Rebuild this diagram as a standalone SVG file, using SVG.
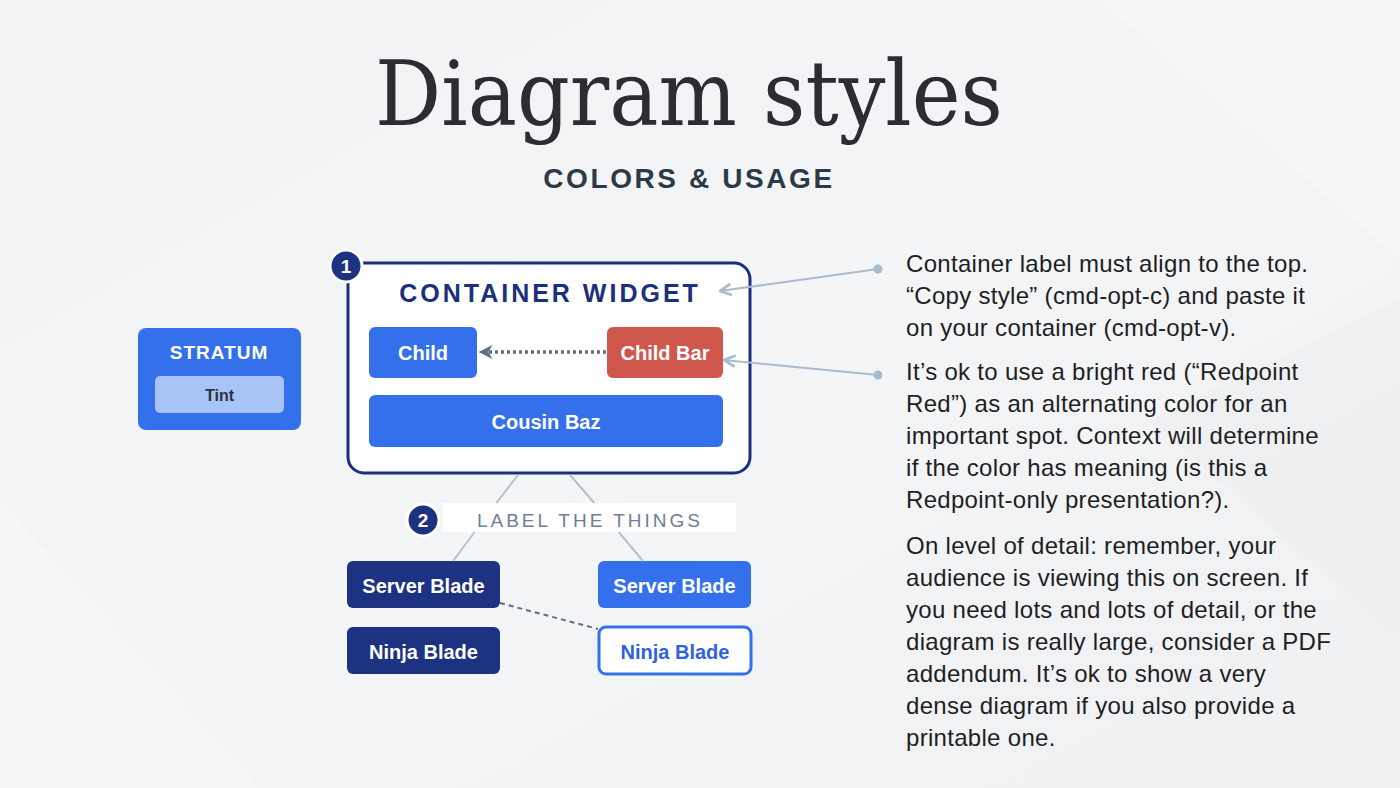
<svg xmlns="http://www.w3.org/2000/svg" width="1400" height="788" viewBox="0 0 1400 788">
<defs>
<linearGradient id="bg" x1="0" y1="0" x2="1" y2="1">
<stop offset="0" stop-color="#f1f2f3"/>
<stop offset="0.5" stop-color="#f4f5f6"/>
<stop offset="1" stop-color="#eff0f2"/>
</linearGradient>
<marker id="ah" viewBox="0 0 10 10" refX="9" refY="5" markerWidth="4" markerHeight="4" orient="auto">
<path d="M0,0 L10,5 L0,10 L3,5 Z" fill="#5d7085"/>
</marker>
<marker id="ah2" viewBox="0 0 10 10" refX="9" refY="5" markerWidth="7" markerHeight="7" orient="auto">
<path d="M1,1 L9,5 L1,9" fill="none" stroke="#a8bccd" stroke-width="2"/>
</marker>
<style>
.lbl{font-family:"Liberation Sans",Arial,sans-serif;font-weight:bold;font-size:20px;fill:#ffffff;text-anchor:middle}
.note{font-family:"Liberation Sans",Arial,sans-serif;font-size:24px;letter-spacing:0.3px;fill:#1d1f24}
.blue{fill:#3570ec}
.navy{fill:#1e3282}
.tree{stroke:#b4c2cf;stroke-width:2;fill:none}
.ann{stroke:#a8bccd;stroke-width:2;fill:none}
.dot{fill:#a8bccd}
.badge{fill:#1e3282;stroke:#ffffff;stroke-width:3}
.badgetxt{font-family:"Liberation Sans",Arial,sans-serif;font-weight:bold;font-size:19px;fill:#ffffff;text-anchor:middle}
</style>
</defs>
<rect width="1400" height="788" fill="url(#bg)"/>
<polygon points="1100,0 1400,0 1400,260" fill="#ffffff" opacity="0.25"/>
<polygon points="0,500 260,788 0,788" fill="#ffffff" opacity="0.25"/>
<polygon points="1150,420 1400,300 1400,640" fill="#e9eaec" opacity="0.35"/>

<text x="689" y="125" font-family="DejaVu Serif,serif" font-size="90" fill="#2b2d31" text-anchor="middle" textLength="628" lengthAdjust="spacingAndGlyphs">Diagram styles</text>
<text x="689" y="188" font-family="Liberation Sans,Arial,sans-serif" font-weight="bold" font-size="28" letter-spacing="2.6" fill="#2c3a48" text-anchor="middle">COLORS &amp; USAGE</text>

<g id="container-widget">
<rect x="348" y="263" width="402" height="210" rx="16" fill="#ffffff" stroke="#1a2f7f" stroke-width="3"/>
<text x="550" y="302" font-family="Liberation Sans,Arial,sans-serif" font-weight="bold" font-size="25" letter-spacing="3" fill="#1c2f7c" text-anchor="middle">CONTAINER WIDGET</text>
</g>
<g id="badge-1">
<circle class="badge" cx="346" cy="266" r="16"/>
<text class="badgetxt" x="346" y="273">1</text>
</g>
<g id="child">
<rect class="blue" x="369" y="327" width="108" height="51" rx="6"/>
<text class="lbl" x="423" y="360">Child</text>
</g>
<g id="child-bar">
<rect x="607" y="327" width="116" height="51" rx="6" fill="#d0574c"/>
<text class="lbl" x="665" y="360">Child Bar</text>
</g>
<g id="cousin-baz">
<rect class="blue" x="369" y="395" width="354" height="52" rx="6"/>
<text class="lbl" x="546" y="429">Cousin Baz</text>
</g>

<g id="stratum">
<rect class="blue" x="138" y="328" width="163" height="102" rx="8"/>
<text x="219" y="359" font-family="Liberation Sans,Arial,sans-serif" font-weight="bold" font-size="19" letter-spacing="1" fill="#ffffff" text-anchor="middle">STRATUM</text>
<rect x="155" y="376" width="129" height="37" rx="5" fill="#a8c3f6"/>
<text x="219.5" y="401" font-family="Liberation Sans,Arial,sans-serif" font-weight="bold" font-size="16" fill="#2a3340" text-anchor="middle">Tint</text>
</g>

<g id="label-the-things">
<rect x="443" y="503" width="293" height="29" fill="#ffffff"/>
<text x="590" y="527" font-family="Liberation Sans,Arial,sans-serif" font-size="19" letter-spacing="3" fill="#6b8096" text-anchor="middle">LABEL THE THINGS</text>
</g>
<g id="badge-2">
<circle class="badge" cx="423" cy="520" r="16"/>
<text class="badgetxt" x="423" y="527">2</text>
</g>

<g id="server-blade-1">
<rect class="navy" x="347" y="561" width="153" height="47" rx="6"/>
<text class="lbl" x="423.5" y="593">Server Blade</text>
</g>
<g id="server-blade-2">
<rect class="blue" x="598" y="561" width="153" height="47" rx="6"/>
<text class="lbl" x="674.5" y="593">Server Blade</text>
</g>
<g id="ninja-blade-1">
<rect class="navy" x="347" y="627" width="153" height="47" rx="6"/>
<text class="lbl" x="423.5" y="659">Ninja Blade</text>
</g>
<g id="ninja-blade-2">
<rect x="599" y="627" width="152" height="47" rx="7" fill="#ffffff" stroke="#3570ec" stroke-width="3"/>
<text class="lbl" x="675" y="659" style="fill:#2f62de">Ninja Blade</text>
</g>

<g id="connectors">
<line class="tree" x1="518" y1="475" x2="496.3" y2="503"/>
<line class="tree" x1="474.7" y1="532" x2="453" y2="561"/>
<line class="tree" x1="570" y1="475" x2="594.3" y2="503"/>
<line class="tree" x1="618.7" y1="532" x2="643" y2="561"/>
<line x1="606" y1="352" x2="480" y2="352" stroke="#5d7085" stroke-width="3.5" stroke-dasharray="3 3" marker-end="url(#ah)"/>
<line x1="500" y1="603" x2="598" y2="629" stroke="#5d7085" stroke-width="2" stroke-dasharray="5 4"/>
<line class="ann" x1="878" y1="269" x2="720" y2="291" marker-end="url(#ah2)"/>
<circle class="dot" cx="878" cy="269" r="4.5"/>
<line class="ann" x1="878" y1="375" x2="724" y2="360" marker-end="url(#ah2)"/>
<circle class="dot" cx="878" cy="375" r="4.5"/>
</g>

<g id="notes">
<text class="note" x="906" y="272">Container label must align to the top.</text>
<text class="note" x="906" y="304">“Copy style” (cmd-opt-c) and paste it</text>
<text class="note" x="906" y="336">on your container (cmd-opt-v).</text>
<text class="note" x="906" y="380">It’s ok to use a bright red (“Redpoint</text>
<text class="note" x="906" y="412">Red”) as an alternating color for an</text>
<text class="note" x="906" y="444">important spot. Context will determine</text>
<text class="note" x="906" y="476">if the color has meaning (is this a</text>
<text class="note" x="906" y="508">Redpoint-only presentation?).</text>
<text class="note" x="906" y="554">On level of detail: remember, your</text>
<text class="note" x="906" y="586">audience is viewing this on screen. If</text>
<text class="note" x="906" y="618">you need lots and lots of detail, or the</text>
<text class="note" x="906" y="650">diagram is really large, consider a PDF</text>
<text class="note" x="906" y="682">addendum. It’s ok to show a very</text>
<text class="note" x="906" y="714">dense diagram if you also provide a</text>
<text class="note" x="906" y="746">printable one.</text>
</g>
</svg>
